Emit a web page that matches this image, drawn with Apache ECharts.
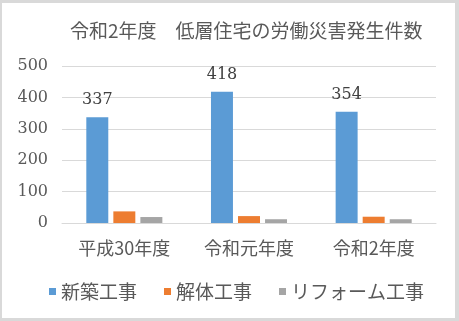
<!DOCTYPE html>
<html><head><meta charset="utf-8">
<script src="https://cdn.jsdelivr.net/npm/echarts@6/dist/echarts.min.js"></script>
<style>html,body{margin:0;padding:0;background:#d9d9d9;}#c{position:absolute;left:2px;top:3px;width:453px;height:315px;background:#fff;}</style>
</head><body><div id="c"></div>
<script>
const categories = ['平成30年度', '令和元年度', '令和2年度'];
const seriesNames = ['新築工事', '解体工事', 'リフォーム工事'];
const newBuild = [337, 418, 354];
const demolition = [37, 22, 20];
const reform = [19, 12, 12];
const yTicks = [0, 100, 200, 300, 400, 500];

const numFont = "'DejaVu Serif', 'Noto Sans CJK JP', serif";
const cjkFont = "'Noto Sans CJK JP', sans-serif";
const chart = echarts.init(document.getElementById('c'));
chart.setOption({
  animation: false,
  backgroundColor: '#fff',
  color: ['#5b9bd5', '#ed7d31', '#a5a5a5'],
  title: {
    text: '令和2年度　低層住宅の労働災害発生件数',
    left: 63, top: 13,
    textStyle: {fontFamily: cjkFont, fontWeight: 'normal', fontSize: 19, color: '#595959'}
  },
  legend: {
    bottom: 12, left: 42,
    itemWidth: 7, itemHeight: 7, itemGap: 27,
    icon: 'rect',
    textStyle: {fontFamily: cjkFont, fontSize: 19, color: '#595959'},
    data: seriesNames
  },
  grid: {left: 60, right: 19, top: 63, bottom: 95},
  xAxis: {
    type: 'category', data: categories,
    axisLine: {lineStyle: {color: '#d9d9d9'}},
    axisTick: {show: false},
    axisLabel: {fontFamily: cjkFont, fontSize: 18, color: '#595959', margin: 16}
  },
  yAxis: {
    type: 'value', min: yTicks[0], max: yTicks[yTicks.length - 1], interval: 100,
    axisLine: {show: false}, axisTick: {show: false},
    splitLine: {lineStyle: {color: '#d9d9d9', width: 1}},
    axisLabel: {fontFamily: numFont, fontSize: 16, color: '#595959', margin: 14}
  },
  series: [
    {name: seriesNames[0], type: 'bar', data: newBuild, barGap: '23%', barCategoryGap: '39%',
     label: {show: true, position: 'top', distance: 9, fontFamily: numFont, fontSize: 16, color: '#404040'}},
    {name: seriesNames[1], type: 'bar', data: demolition},
    {name: seriesNames[2], type: 'bar', data: reform}
  ]
});
</script></body></html>
